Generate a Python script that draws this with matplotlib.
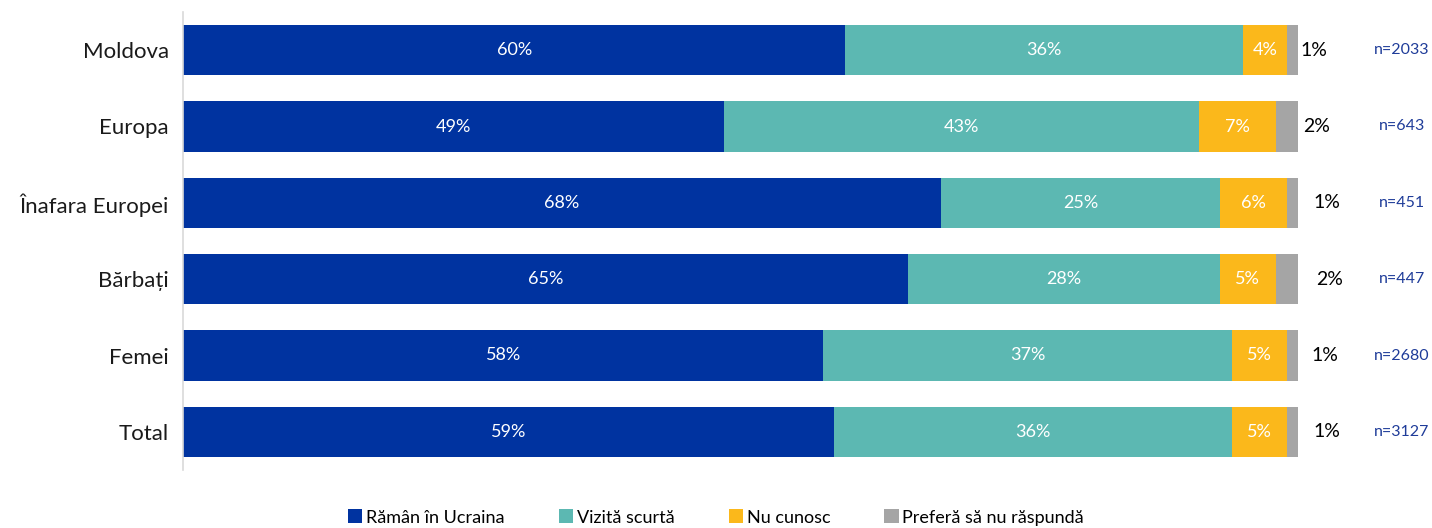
import matplotlib.pyplot as plt
import numpy as np

plt.rcParams['font.family'] = ['Lato', 'DejaVu Sans']

categories = ['Moldova', 'Europa', 'Înafara Europei', 'Bărbați', 'Femei', 'Total']
raman = [60, 49, 68, 65, 58, 59]
vizita = [36, 43, 25, 28, 37, 36]
nu_cunosc = [4, 7, 6, 5, 5, 5]
prefera = [1, 2, 1, 2, 1, 1]
n_labels = ['n=2033', 'n=643', 'n=451', 'n=447', 'n=2680', 'n=3127']
series_names = ['Rămân în Ucraina', 'Vizită scurtă', 'Nu cunosc', 'Preferă să nu răspundă']
colors = ['#0033a0', '#5cb8b2', '#fbb81b', '#a5a5a5']

data = np.array([raman, vizita, nu_cunosc, prefera], dtype=float)
totals = data.sum(axis=0)
shares = data / totals

fig = plt.figure(figsize=(14.32, 5.28), dpi=100)
ax = fig.add_axes([183 / 1432, 58 / 528, 1 - 183 / 1432, 458 / 528])

y = np.arange(len(categories))
left = np.zeros(len(categories))
for i in range(4):
    ax.barh(y, shares[i], left=left, height=0.66, color=colors[i],
            label=series_names[i], edgecolor='none')
    if i < 3:
        for j in range(len(categories)):
            ax.text(left[j] + shares[i][j] / 2, y[j], f'{int(data[i][j])}%',
                    ha='center', va='center', color='white', fontsize=13)
    left += shares[i]

right_off = [0.002, 0.0045, 0.0135, 0.016, 0.012, 0.0135]
for j in range(len(categories)):
    ax.text(1 + right_off[j], y[j], f'{int(prefera[j])}%', ha='left', va='center',
            color='black', fontsize=14)
    ax.text(1.093, y[j], n_labels[j], ha='center', va='center',
            color='#1f3c99', fontsize=11.5)

ax.set_xlim(0, (1432 - 183) / 1115)
ax.set_ylim(len(categories) - 0.5, -0.5)
ax.set_yticks(y)
ax.set_yticklabels(categories, fontsize=16, color='#1a1a1a')
ax.tick_params(axis='y', length=0, pad=10)
ax.set_xticks([])
for s in ['top', 'right', 'bottom']:
    ax.spines[s].set_visible(False)
ax.spines['left'].set_color('#d9d9d9')
ax.spines['left'].set_linewidth(1.2)

fig.legend(loc='center', bbox_to_anchor=(0.5, 0.02), ncol=4, frameon=False,
           fontsize=13, handlelength=0.8, handleheight=0.8, handletextpad=0.2,
           columnspacing=3.0)

fig.savefig('out.png', dpi=100)
